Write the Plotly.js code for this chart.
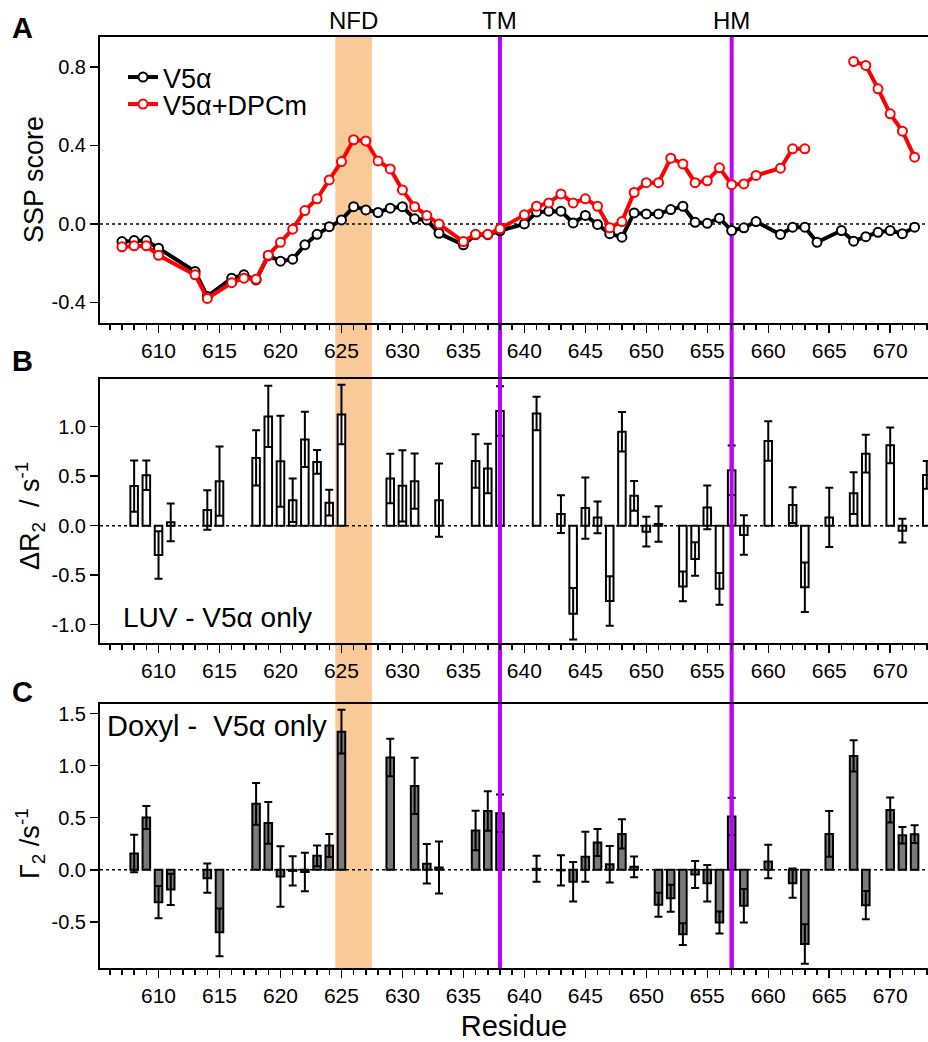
<!DOCTYPE html>
<html>
<head>
<meta charset="utf-8">
<script src="https://cdn.plot.ly/plotly-3.0.1.min.js"></script>
<style>html,body{margin:0;padding:0;background:#fff;}#chart{width:928px;height:1042px;}</style>
</head>
<body>
<div id="chart"></div>
<script>
// ---------- Panel A: SSP score ----------
const sspResV5a = [607,608,609,610,613,614,616,617,618,619,620,621,622,623,624,625,626,627,628,629,630,631,632,633,635,636,637,638,640,641,642,643,644,645,646,647,648,649,650,651,652,653,654,655,656,657,658,659,661,662,663,664,666,667,668,669,670,671,672];
const sspV5a = [-0.09,-0.085,-0.085,-0.124,-0.243,-0.37,-0.277,-0.26,-0.286,-0.162,-0.19,-0.18,-0.107,-0.053,-0.014,0.02,0.088,0.071,0.058,0.08,0.088,0.026,0.02,-0.048,-0.107,-0.055,-0.055,-0.035,0.0,0.06,0.065,0.065,0.005,0.043,-0.003,-0.05,-0.068,0.056,0.051,0.051,0.073,0.09,0.008,0.003,0.029,-0.034,-0.02,0.012,-0.054,-0.017,-0.017,-0.094,-0.034,-0.088,-0.065,-0.043,-0.034,-0.05,-0.017];
const sspResDPC = [607,608,609,610,613,614,616,617,618,619,620,621,622,623,624,625,626,627,628,629,630,631,632,633,635,636,637,638,640,641,642,643,644,645,646,647,648,649,650,651,652,653,654,655,656,657,658,659,661,662,663,665,667,668,669,670,671,672];
const sspDPC = [-0.117,-0.112,-0.112,-0.16,-0.26,-0.38,-0.30,-0.277,-0.282,-0.16,-0.094,-0.027,0.068,0.128,0.224,0.318,0.429,0.423,0.321,0.28,0.173,0.088,0.043,0.0,-0.09,-0.053,-0.053,-0.025,0.046,0.09,0.107,0.153,0.107,0.128,0.09,-0.02,0.012,0.16,0.21,0.21,0.335,0.306,0.21,0.22,0.286,0.2,0.204,0.247,0.284,0.383,0.383,null,0.828,0.808,0.689,0.561,0.473,0.34];

// ---------- Panel B: Delta R2 (LUV - V5a only) ----------
const r2Res = [608,609,610,611,614,615,618,619,620,621,622,623,624,625,629,630,631,633,636,637,638,641,643,644,645,646,647,648,649,650,651,653,654,655,656,657,658,660,662,663,665,667,668,670,671,673];
const r2Val = [0.40,0.51,-0.295,0.034,0.158,0.45,0.685,1.104,0.651,0.258,0.872,0.644,0.232,1.124,0.477,0.403,0.45,0.258,0.654,0.577,1.158,1.134,0.117,-0.889,0.178,0.084,-0.762,0.95,0.302,-0.06,0.017,-0.614,-0.336,0.185,-0.638,0.56,-0.094,0.856,0.208,-0.621,0.084,0.329,0.728,0.812,-0.05,0.513];
const r2Err = [0.26,0.15,0.24,0.19,0.2,0.35,0.28,0.31,0.46,0.22,0.28,0.12,0.13,0.3,0.25,0.36,0.28,0.37,0.27,0.25,0.25,0.17,0.19,0.26,0.31,0.16,0.25,0.2,0.15,0.15,0.18,0.15,0.17,0.22,0.16,0.25,0.2,0.2,0.18,0.25,0.3,0.21,0.19,0.18,0.12,0.14];

// ---------- Panel C: Gamma2 (Doxyl - V5a only) ----------
const g2Res = [608,609,610,611,614,615,618,619,620,621,622,623,624,625,629,631,632,633,636,637,638,641,643,644,645,646,647,648,649,651,652,653,654,655,656,657,658,660,662,663,665,667,668,670,671,672];
const g2Val = [0.157,0.502,-0.31,-0.188,-0.08,-0.6,0.633,0.45,-0.064,-0.01,-0.02,0.134,0.233,1.326,1.077,0.805,0.058,0.022,0.377,0.565,0.543,0.01,-0.005,-0.115,0.125,0.262,0.054,0.345,0.029,-0.335,-0.272,-0.617,-0.045,-0.128,-0.505,0.511,-0.345,0.08,-0.128,-0.712,0.345,1.093,-0.339,0.575,0.332,0.342];
const g2Err = [0.18,0.11,0.155,0.15,0.14,0.23,0.2,0.2,0.29,0.14,0.185,0.1,0.11,0.21,0.18,0.27,0.19,0.25,0.19,0.19,0.18,0.125,0.145,0.19,0.24,0.13,0.175,0.14,0.1,0.115,0.13,0.105,0.13,0.175,0.105,0.18,0.16,0.16,0.14,0.19,0.22,0.15,0.135,0.12,0.08,0.085];

// ---------- ticks, ranges, markers ----------
const xRange = [605.2, 673.1];
const yRangeA = [-0.504, 0.953];
const yRangeB = [-1.188, 1.479];
const yRangeC = [-0.942, 1.588];
const yTickValsA = [-0.4, 0, 0.4, 0.8];
const yTickTextA = ['-0.4', '0.0', '0.4', '0.8'];
const yTickValsB = [-1, -0.5, 0, 0.5, 1];
const yTickTextB = ['-1.0', '-0.5', '0.0', '0.5', '1.0'];
const yTickValsC = [-0.5, 0, 0.5, 1, 1.5];
const yTickTextC = ['-0.5', '0.0', '0.5', '1.0', '1.5'];
const nfdRange = [624.5, 627.5];
const helixRes = [638, 657];
const regionLabels = ['NFD', 'TM', 'HM'];
const regionLabelPos = [626, 638, 657];

const FONT = 'Liberation Sans, Arial, Helvetica, sans-serif';
const PURPLE = '#BF00FF';
const ORANGE = 'rgb(250,201,152)';

const traces = [
  {type:'scatter', mode:'lines+markers', name:'V5α', x:sspResV5a, y:sspV5a,
   xaxis:'x', yaxis:'y', legend:'legend',
   line:{color:'black', width:4},
   marker:{symbol:'circle', size:9, color:'white', line:{color:'black', width:2}}},
  {type:'scatter', mode:'lines+markers', name:'V5α+DPCm', x:sspResDPC, y:sspDPC,
   xaxis:'x', yaxis:'y', legend:'legend2', connectgaps:false,
   line:{color:'#FF0000', width:4},
   marker:{symbol:'circle', size:9, color:'white', line:{color:'#FF0000', width:2}}},
  {type:'bar', x:r2Res, y:r2Val, xaxis:'x2', yaxis:'y2', width:0.62, showlegend:false,
   marker:{color:'white', line:{color:'black', width:2}},
   error_y:{type:'data', array:r2Err, visible:true, color:'black', thickness:2, width:4}},
  {type:'bar', x:g2Res, y:g2Val, xaxis:'x3', yaxis:'y3', width:0.62, showlegend:false,
   marker:{color:'#7a7a7a', line:{color:'black', width:2}},
   error_y:{type:'data', array:g2Err, visible:true, color:'black', thickness:2, width:4}}
];

const axBase = {showline:true, linecolor:'black', linewidth:2, ticks:'outside', ticklen:8,
  tickwidth:1.5, tickcolor:'black', showgrid:false, zeroline:false,
  tickfont:{family:FONT, size:20, color:'black'}};
const xBase = Object.assign({}, axBase, {range:xRange, tick0:0, dtick:5, mirror:true,
  tickfont:{family:FONT, size:21, color:'black'},
  minor:{dtick:1, ticks:'outside', ticklen:5, tickwidth:1.5, tickcolor:'black'}});

const shapes = [];
shapes.push({type:'rect', xref:'x', yref:'paper', x0:nfdRange[0], x1:nfdRange[1], y0:0, y1:1,
  fillcolor:ORANGE, line:{width:0}, layer:'below'});
helixRes.forEach(r => {
  shapes.push({type:'line', xref:'x', yref:'paper', x0:r, x1:r, y0:0, y1:1,
    line:{color:PURPLE, width:4}, layer:'below'});
});
[['x','y'],['x2','y2'],['x3','y3']].forEach(([xa,ya]) => {
  shapes.push({type:'line', xref:xa+' domain', yref:ya, x0:0, x1:1, y0:0, y1:0,
    line:{color:'black', width:1.5, dash:'dot'}, layer:'below'});
});
[['x2','y2'],['x3','y3']].forEach(([xa,ya]) => {
  helixRes.forEach(r => {
    shapes.push({type:'line', xref:xa, yref:ya+' domain', x0:r, x1:r, y0:0, y1:1,
      line:{color:PURPLE, width:4}, layer:'above'});
  });
});

const annotations = [];
regionLabels.forEach((t, i) => {
  annotations.push({text:t, xref:'x', yref:'paper', x:regionLabelPos[i], y:1.0172,
    xanchor:'center', yanchor:'middle', showarrow:false, font:{family:FONT, size:24, color:'black'}});
});
[['A',1.0097],['B',0.652],['C',0.2965]].forEach(([t,y]) => {
  annotations.push({text:'<b>'+t+'</b>', xref:'paper', yref:'paper', x:-0.0942, y:y,
    xanchor:'center', yanchor:'middle', showarrow:false, font:{family:FONT, size:29, color:'black'}});
});
[['SSP score',-0.0797,0.8464],['ΔR<sub>2</sub>  / s<sup>-1</sup>',-0.0845,0.4855],['Γ<sub>2</sub> /s<sup>-1</sup>',-0.0845,0.1332]].forEach(([t,x,y]) => {
  annotations.push({text:t, xref:'paper', yref:'paper', x:x, y:y, textangle:-90,
    xanchor:'center', yanchor:'middle', showarrow:false, font:{family:FONT, size:27, color:'black'}});
});
annotations.push({text:'LUV - V5α only', xref:'paper', yref:'paper', x:0.0255, y:0.377,
  xanchor:'left', yanchor:'middle', showarrow:false, font:{family:FONT, size:28, color:'black'}});
annotations.push({text:'Doxyl -\u00A0 V5α only', xref:'paper', yref:'paper', x:0.006, y:0.26,
  xanchor:'left', yanchor:'middle', showarrow:false, font:{family:FONT, size:29, color:'black'}});

const legendBase = {xanchor:'left', yanchor:'middle', bgcolor:'rgba(0,0,0,0)', borderwidth:0,
  font:{family:FONT, size:27, color:'black'}};

const layout = {
  width:928, height:1042,
  margin:{l:100, r:0, t:37, b:74},
  paper_bgcolor:'white', plot_bgcolor:'white',
  font:{family:FONT, size:20, color:'black'},
  showlegend:true,
  legend:Object.assign({}, legendBase, {x:0.0278, y:0.9565}),
  legend2:Object.assign({}, legendBase, {x:0.0278, y:0.9275}),
  xaxis:Object.assign({}, xBase, {anchor:'y', domain:[0,1]}),
  xaxis2:Object.assign({}, xBase, {anchor:'y2', domain:[0,1]}),
  xaxis3:Object.assign({}, xBase, {anchor:'y3', domain:[0,1],
    title:{text:'Residue', font:{family:FONT, size:29, color:'black'}, standoff:10}}),
  yaxis:Object.assign({}, axBase, {anchor:'x', domain:[0.6931,1], range:yRangeA, tickvals:yTickValsA, ticktext:yTickTextA}),
  yaxis2:Object.assign({}, axBase, {anchor:'x2', domain:[0.3488,0.6323], range:yRangeB, tickvals:yTickValsB, ticktext:yTickTextB}),
  yaxis3:Object.assign({}, axBase, {anchor:'x3', domain:[0,0.2832], range:yRangeC, tickvals:yTickValsC, ticktext:yTickTextC}),
  shapes:shapes,
  annotations:annotations,
  bargap:0.2
};

Plotly.newPlot('chart', traces, layout, {displayModeBar:false, staticPlot:true});
</script>
</body>
</html>
